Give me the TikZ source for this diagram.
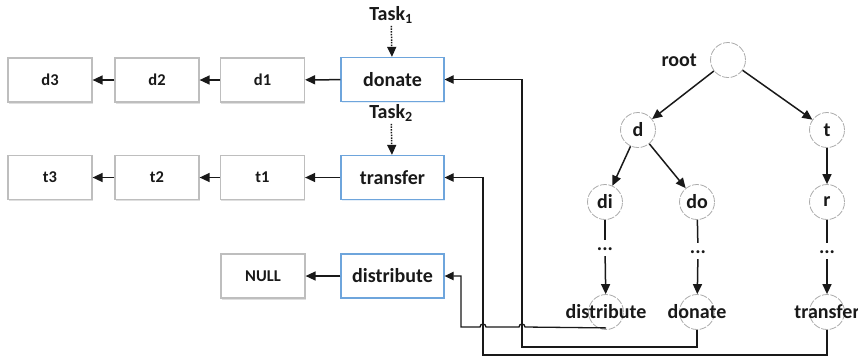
\documentclass[tikz,border=0pt]{standalone}
\usepackage{fontspec}
\setmainfont{Carlito}
\usetikzlibrary{arrows.meta,shadows}
\definecolor{keyblue}{RGB}{110,165,220}
\definecolor{boxgray}{RGB}{190,190,190}
\definecolor{ink}{RGB}{25,25,25}
\begin{document}
\begin{tikzpicture}[x=1pt,y=-1pt,
  bigfont/.style={font=\fontsize{20}{24}\selectfont\bfseries},
  smallfont/.style={font=\fontsize{16.5}{19}\selectfont\bfseries},
  keybox/.style={draw=keyblue, line width=1.3pt, fill=white, minimum width=103pt,
    minimum height=44pt, inner sep=0pt, bigfont, text=ink,
    drop shadow={shadow xshift=0.8pt, shadow yshift=-1.2pt, opacity=0.18, fill=keyblue}},
  databox/.style={draw=boxgray, line width=1.2pt, fill=white, minimum width=84pt,
    minimum height=44pt, inner sep=0pt, smallfont, text=ink,
    drop shadow={shadow xshift=0.8pt, shadow yshift=-1.5pt, opacity=0.25, fill=gray}},
  tnode/.style={circle, draw=gray!65, line width=0.8pt, dash pattern=on 7pt off 1.5pt,
    fill=white, minimum size=35pt, inner sep=0pt, bigfont, text=ink},
  leaftext/.style={bigfont, text=ink, inner sep=0pt},
  dotsnode/.style={bigfont, text=ink, inner sep=0pt, anchor=base, text height=10pt, text depth=6pt},
  arr/.style={draw=ink, line width=1.5pt, -{Triangle[length=10pt,width=9pt]}},
  link/.style={draw=ink, line width=1.5pt},
  dotarr/.style={arr, dash pattern=on 1.5pt off 1.2pt},
  feed/.style={draw=ink, line width=1.3pt, -{Triangle[length=9pt,width=8.5pt]}}
]
\useasboundingbox (0,0) rectangle (858,360);

% key list heads
\node[keybox] (donate) at (392.5,79.5) {donate};
\node[keybox] (transfer) at (392.5,177.5) {transfer};
\node[keybox] (distribute) at (392.5,276) {distribute};

% posting chains
\node[databox] (d1) at (262.5,80) {d1};
\node[databox] (d2) at (157,80) {d2};
\node[databox] (d3) at (50,80) {d3};
\node[databox] (t1) at (262.5,177.5) {t1};
\node[databox] (t2) at (157,177.5) {t2};
\node[databox] (t3) at (50,177.5) {t3};
\node[databox] (null) at (263,276) {NULL};

\draw[arr] (donate) -- (d1);
\draw[arr] (d1) -- (d2);
\draw[arr] (d2) -- (d3);
\draw[arr] (transfer) -- (t1);
\draw[arr] (t1) -- (t2);
\draw[arr] (t2) -- (t3);
\draw[arr] (distribute) -- (null);

% incoming tasks
\node[bigfont, text=ink, inner sep=2pt] (task1) at (391,15) {Task\textsubscript{1}};
\node[bigfont, text=ink, inner sep=2pt] (task2) at (391,113) {Task\textsubscript{2}};
\draw[dotarr] (task1) -- (donate);
\draw[dotarr] (task2) -- (transfer);

% trie
\node[tnode] (root) at (728,60) {};
\node[bigfont, text=ink, anchor=east, inner sep=0pt] (rootlabel) at ([xshift=-13pt]root.west) {root};
\node[tnode] (d) at (638,130) {d};
\node[tnode] (t) at (827,130) {t};
\node[tnode] (di) at (605,202) {di};
\node[tnode] (do) at (697,202) {do};
\node[tnode] (r) at (827,202) {r};
\node[dotsnode] (dotsdi) at (605,250) {...};
\node[dotsnode] (dotsdo) at (698,253) {...};
\node[dotsnode] (dotsr) at (827,253) {...};
\node[tnode] (dl) at (606,312) {};
\node[tnode] (ol) at (697,312) {};
\node[tnode] (tl) at (827,312) {};
\node[leaftext] at (dl) {distribute};
\node[leaftext] at (ol) {donate};
\node[leaftext] at (tl) {transfer};

\draw[arr] (root) -- (d);
\draw[arr] (root) -- (t);
\draw[arr] (d) -- (di);
\draw[arr] (d) -- (do);
\draw[arr] (t) -- (r);
\draw[link] (di) -- (dotsdi);
\draw[link] (do) -- (dotsdo);
\draw[link] (r) -- (dotsr);
\draw[arr] (dotsdi) -- (dl);
\draw[arr] (dotsdo) -- (ol);
\draw[arr] (dotsr) -- (tl);

% leaves back to their list heads
\draw[feed] (ol.south) |- (522,347) |- (donate.east);
\draw[feed] (tl.south) |- (483,355) |- (transfer.east);
\draw[feed] ([yshift=2pt]dl.south) -- (525,327) arc[start angle=0, end angle=180, radius=3pt]
  -- (486,327) arc[start angle=0, end angle=180, radius=3pt]
  -- (461,327) |- (distribute.east);
\end{tikzpicture}
\end{document}
